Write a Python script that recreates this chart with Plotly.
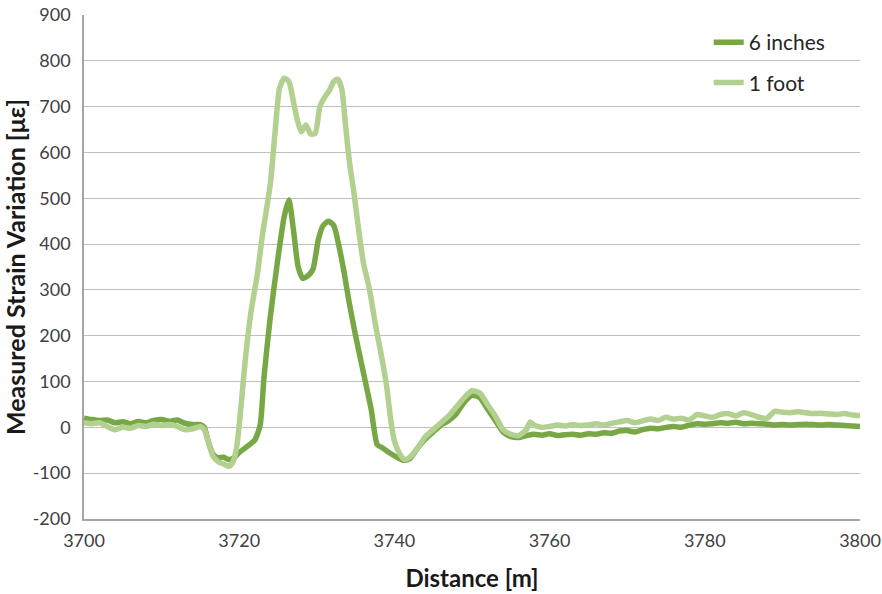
import plotly.graph_objects as go

# 6 inches series
dist_6in = [3700, 3701, 3702, 3703, 3704, 3705, 3706, 3707, 3708, 3709, 3710, 3711, 3712, 3713, 3714, 3715,
            3715.5, 3716, 3716.6, 3717.2, 3718, 3718.6, 3719.3, 3720, 3721, 3722, 3722.7, 3723.2, 3724, 3725,
            3725.8, 3726.4, 3727, 3727.6, 3728.2, 3728.8, 3729.5, 3730.2, 3730.8, 3731.5, 3732.2, 3732.8,
            3733.5, 3734.2, 3735, 3736, 3737, 3737.8, 3738.5, 3739.3, 3740.3, 3741.2, 3742, 3743, 3744, 3745,
            3746, 3747, 3748, 3749, 3750, 3751, 3752, 3753, 3754, 3755, 3756, 3757, 3758, 3759, 3760, 3761,
            3762, 3763, 3764, 3765, 3766, 3767, 3768, 3769, 3770, 3771, 3772, 3773, 3774, 3775, 3776, 3777,
            3778, 3779, 3780, 3781, 3782, 3783, 3784, 3785, 3786, 3787, 3788, 3789, 3790, 3791, 3792, 3793,
            3794, 3795, 3796, 3797, 3798, 3799, 3800]
strain_6in = [20, 17, 15, 16, 10, 12, 8, 13, 10, 15, 17, 13, 16, 9, 6, 6,
              0, -30, -58, -66, -65, -70, -67, -55, -42, -28, 5, 110, 240, 370,
              460, 496, 430, 350, 325, 330, 345, 410, 440, 450, 440, 400,
              340, 270, 200, 120, 40, -38, -45, -55, -65, -72, -68, -45, -25, -10,
              5, 15, 30, 55, 70, 65, 40, 15, -10, -20, -22, -18, -15, -17, -14, -18,
              -16, -15, -17, -14, -15, -12, -13, -8, -7, -10, -5, -2, -3, 0, 2, 0,
              5, 8, 7, 8, 10, 9, 11, 8, 9, 8, 7, 5, 6, 5, 6, 7,
              6, 5, 6, 5, 4, 3, 2]

# 1 foot series
dist_1ft = [3700, 3701, 3702, 3703, 3704, 3705, 3706, 3707, 3708, 3709, 3710, 3711, 3712, 3713, 3714, 3715,
            3715.5, 3716, 3716.6, 3717.3, 3718, 3718.7, 3719.2, 3719.7, 3720.2, 3720.8, 3721.5, 3722.3, 3723,
            3724, 3724.6, 3725.2, 3725.8, 3726.4, 3727, 3727.5, 3728, 3728.6, 3729.2, 3729.8, 3730.4, 3731,
            3731.6, 3732.2, 3732.7, 3733.2, 3733.7, 3734.2, 3734.8, 3735.4, 3736, 3736.8, 3737.6, 3738.4,
            3739, 3739.5, 3740, 3740.6, 3741.3, 3742, 3743, 3744, 3745, 3746, 3747, 3748, 3749, 3750, 3751,
            3752, 3753, 3754, 3755, 3756, 3757, 3757.5, 3758, 3759, 3760, 3761, 3762, 3763, 3764, 3765, 3766,
            3767, 3768, 3769, 3770, 3771, 3772, 3773, 3774, 3775, 3776, 3777, 3778, 3779, 3780, 3781, 3782,
            3783, 3784, 3785, 3786, 3787, 3788, 3789, 3790, 3791, 3792, 3793, 3794, 3795, 3796, 3797, 3798,
            3799, 3800]
strain_1ft = [10, 8, 10, 2, -5, 0, -2, 4, 2, 7, 4, 6, 2, -5, -3, 2,
              -5, -30, -62, -75, -80, -85, -75, -40, 40, 150, 250, 330, 420,
              530, 640, 740, 762, 755, 710, 670, 645, 660, 640, 642, 700, 720,
              735, 755, 760, 740, 660, 580, 510, 430, 360, 300, 220, 150,
              90, 20, -30, -55, -70, -65, -45, -20, -5, 10, 25, 45, 65, 80, 75,
              50, 25, -5, -15, -18, -5, 12, 5, 0, 2, 5, 3, 6, 4, 5, 8,
              5, 9, 12, 15, 10, 14, 18, 15, 22, 18, 20, 16, 28, 25, 22, 28,
              30, 25, 32, 28, 22, 20, 35, 33, 32, 34, 32, 30, 31, 29, 28, 30,
              27, 26]

y_ticks = [-200, -100, 0, 100, 200, 300, 400, 500, 600, 700, 800, 900]
y_tick_labels = ["-200", "-100", "0", "100", "200", "300", "400", "500", "600", "700", "800", "900"]
x_ticks = [3700, 3720, 3740, 3760, 3780, 3800]
x_tick_labels = ["3700", "3720", "3740", "3760", "3780", "3800"]

FONT = "Lato, 'Open Sans', sans-serif"

fig = go.Figure()
fig.add_trace(go.Scatter(x=dist_6in, y=strain_6in, mode="lines", name="6 inches",
                         legendgroup="a",
                         line=dict(color="#78a846", width=5.5, shape="spline", smoothing=0.6)))
fig.add_trace(go.Scatter(x=dist_1ft, y=strain_1ft, mode="lines", name="1 foot",
                         legendgroup="b",
                         line=dict(color="#b2d08f", width=5.5, shape="spline", smoothing=0.6)))

fig.update_layout(
    width=882, height=594,
    margin=dict(l=84, r=22, t=15, b=75),
    paper_bgcolor="white", plot_bgcolor="white",
    font=dict(family=FONT, size=18, color="#404040"),
    showlegend=True,
    legend=dict(x=0.805, y=0.986, xanchor="left", yanchor="top",
                bgcolor="rgba(0,0,0,0)", font=dict(size=21, color="#262626"),
                tracegroupgap=10),
    xaxis=dict(range=[3700, 3800], tickvals=x_ticks, ticktext=x_tick_labels,
               showgrid=False, zeroline=False,
               showline=True, linecolor="#a6a6a6", linewidth=1.5, ticks="",
               automargin=False, ticklabelstandoff=5,
               title=dict(text="Distance [m]", font=dict(family=FONT, size=24, color="#1a1a1a",
                                                          weight="bold"), standoff=20)),
    yaxis=dict(range=[-200, 900], tickvals=y_ticks, ticktext=y_tick_labels,
               showgrid=True, gridcolor="#bfbfbf", gridwidth=1.2,
               zeroline=False, showline=True, linecolor="#a6a6a6", linewidth=1.5, ticks="",
               automargin=False, ticklabelstandoff=8,
               title=dict(text="Measured Strain Variation [με]",
                          font=dict(family=FONT, size=25, color="#1a1a1a", weight="bold"), standoff=17)),
)

# remove the default 8px page margin so the figure sits at the window's top-left corner
fig.write_html("out.html", config={"displayModeBar": False},
               post_script="document.body.style.margin='0';")
